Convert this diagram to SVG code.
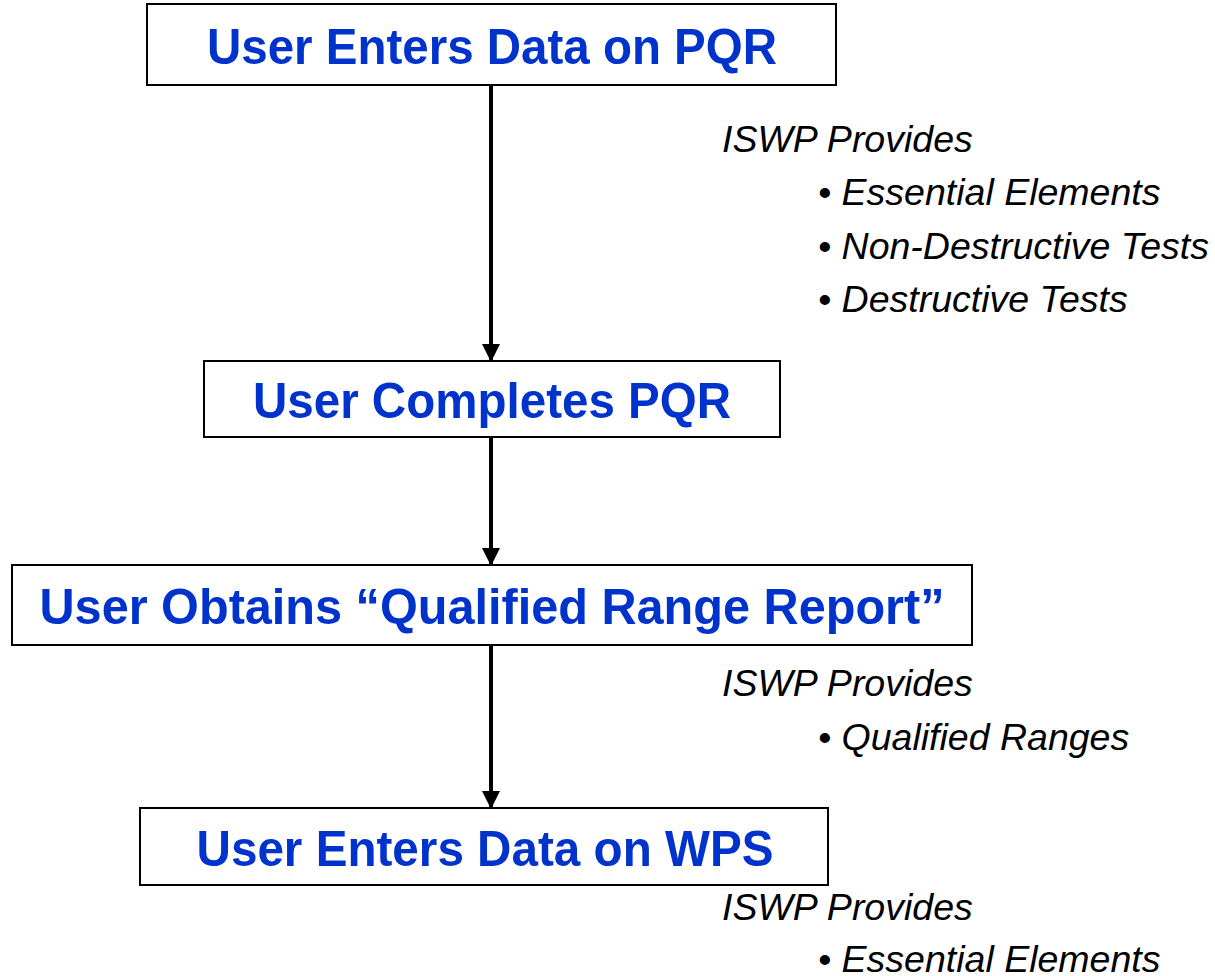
<svg xmlns="http://www.w3.org/2000/svg" width="1215" height="976" viewBox="0 0 1215 976">
<style>
.box{fill:#fff;stroke:#000;stroke-width:2}
.title{font-family:"Liberation Sans",Arial,sans-serif;font-weight:bold;font-size:50px;fill:#0033CC;text-anchor:middle}
.note{font-family:"Liberation Sans",Arial,sans-serif;font-style:italic;font-size:37.5px;fill:#000}
.conn{stroke:#000;stroke-width:4;fill:none}
</style>
<defs>
<marker id="ah" markerUnits="userSpaceOnUse" markerWidth="18" markerHeight="20" refX="16" refY="9" orient="auto">
<path d="M0,0 L18,9 L0,18 Z" fill="#000"/>
</marker>
</defs>
<rect width="1215" height="976" fill="#fff"/>
<g id="connectors">
<line class="conn" x1="491" y1="85" x2="491" y2="360" marker-end="url(#ah)"/>
<line class="conn" x1="491" y1="437" x2="491" y2="564" marker-end="url(#ah)"/>
<line class="conn" x1="491" y1="645" x2="491" y2="807" marker-end="url(#ah)"/>
</g>
<g id="n1">
<rect class="box" x="147" y="4" width="689" height="81"/>
<text class="title" x="492" y="64" textLength="570" lengthAdjust="spacingAndGlyphs">User Enters Data on PQR</text>
</g>
<g id="n2">
<rect class="box" x="204" y="361" width="576" height="76"/>
<text class="title" x="492" y="418" textLength="478" lengthAdjust="spacingAndGlyphs">User Completes PQR</text>
</g>
<g id="n3">
<rect class="box" x="12" y="565" width="960" height="80"/>
<text class="title" x="492" y="624" textLength="905" lengthAdjust="spacingAndGlyphs">User Obtains “Qualified Range Report”</text>
</g>
<g id="n4">
<rect class="box" x="140" y="808" width="688" height="77"/>
<text class="title" x="485" y="866" textLength="577" lengthAdjust="spacingAndGlyphs">User Enters Data on WPS</text>
</g>
<g id="notes1">
<text class="note" x="722" y="152">ISWP Provides</text>
<text class="note" x="818" y="205">• Essential Elements</text>
<text class="note" x="818" y="259">• Non-Destructive Tests</text>
<text class="note" x="818" y="312">• Destructive Tests</text>
</g>
<g id="notes2">
<text class="note" x="722" y="696">ISWP Provides</text>
<text class="note" x="818" y="750">• Qualified Ranges</text>
</g>
<g id="notes3">
<text class="note" x="722" y="920">ISWP Provides</text>
<text class="note" x="818" y="972">• Essential Elements</text>
</g>
</svg>
